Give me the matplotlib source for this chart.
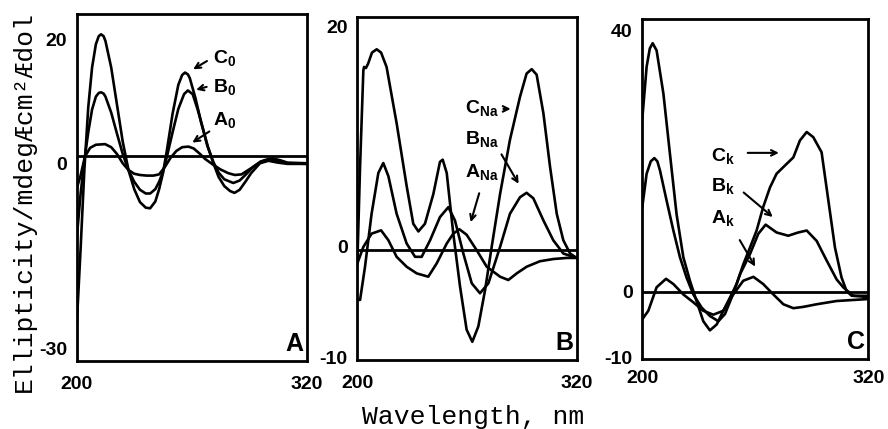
import matplotlib
matplotlib.use('Agg')
import matplotlib.pyplot as plt

plt.rcParams['font.family'] = ['Liberation Sans', 'DejaVu Sans']
plt.rcParams['mathtext.fontset'] = 'custom'
plt.rcParams['mathtext.bf'] = 'Liberation Sans:bold'
plt.rcParams['mathtext.rm'] = 'Liberation Sans'

# panel A (water)
wl_c0 = [200, 202, 204, 206, 208, 210, 211.5, 212.7, 214, 215, 218, 221, 224, 227, 230, 233, 236,
         238.3, 241, 243, 245, 247, 250, 253, 255, 256.5, 258, 259, 262, 265, 268, 271.3, 274,
         277, 280, 282.3, 285, 288, 291, 295.6, 300, 305, 310, 320]
c0 = [-26.2, -14, -1, 9, 15.5, 19.3, 20.6, 20.9, 20.6, 19.8, 15.5, 9.5, 3.5, -1.1, -4.2, -6.3, -7.2,
      -7.3, -6.2, -4.2, -1.6, 2, 8, 12.7, 14.3, 14.7, 14.4, 13.8, 10.5, 6.5, 3, 0, -2.2,
      -3.7, -4.5, -4.8, -4.3, -3.0, -1.6, 0, 0.4, 0.1, -0.1, -0.1]
wl_b0 = [200, 202, 204, 206, 208, 210, 211.5, 212.7, 214, 215, 218, 221, 224, 227, 230, 233, 236,
         238.3, 241, 243, 245, 247, 250, 253, 256, 258, 260.5, 263, 266, 268.5, 271.3, 274,
         277, 281.7, 285, 288, 292, 296, 300, 304, 310, 320]
b0 = [-12.2, -5, 0.5, 5, 8.7, 10.8, 11.4, 11.5, 11.3, 10.8, 8.2, 4.8, 1.5, -1.1, -3.0, -4.3, -4.9,
      -4.9, -4.2, -3.0, -1.4, 1, 5, 8.8, 11.2, 11.8, 11.2, 8.8, 5.5, 2.6, 0.2, -1.5,
      -2.6, -3.2, -2.8, -1.9, -0.6, 0.3, 0.6, 0.4, 0.0, -0.1]
wl_a0 = [200, 202, 204.3, 207, 210, 214.8, 218, 221, 224, 227, 230, 233, 236.5, 240, 243, 246,
         249, 252, 255, 258.3, 261, 264, 267, 271, 275, 279, 282.5, 286, 290, 294, 298, 302,
         306, 310, 320]
a0 = [-4.1, -2, 1.1, 2.5, 3.0, 3.1, 2.6, 1.5, 0, -1.1, -1.7, -1.9, -2.0, -2.0, -1.8, -0.6,
      0.9, 2.0, 2.6, 2.7, 2.4, 1.6, 0.7, -0.2, -1.0, -1.6, -1.9, -1.8, -1.0, -0.2, 0.5, 0.8,
      0.5, 0.1, 0.0]
base_a = 1.2

# panel B (Na)
wl_cna = [200, 201.5, 203.3, 203.7, 204.7, 205.9, 208, 210.6, 213, 216, 221.5, 227, 230.6,
          233.4, 237, 241.6, 245.2, 246.7, 248.9, 252.5, 256.2, 259.8, 262.9, 266.2, 269.9,
          273.5, 278.1, 283.5, 289, 292.6, 295.4, 298.1, 301.8, 305.4, 309.1, 312.7, 316.4, 320]
cna = [-1.5, 7.3, 16.0, 16.3, 16.2, 16.6, 17.6, 17.9, 17.6, 16.3, 11.2, 5.5, 2.1,
       1.4, 2.1, 4.8, 7.7, 7.9, 6.7, 1.2, -3.6, -7.5, -8.6, -7.2, -3.9,
       0.0, 4.8, 9.7, 13.6, 15.7, 16.1, 15.6, 12.1, 7.3, 3.0, 0.6, -0.6, -1.0]
wl_bna = [200, 201.5, 204.2, 207.8, 211.5, 214.2, 217, 221.5, 227, 231.6, 235.2, 239.8, 245.2,
          249.8, 253.4, 258, 262.6, 267.1, 271.7, 278.1, 283.5, 289, 292.6, 296.3, 301.8,
          307.2, 312.7, 320]
bna = [-4.8, -4.8, -1.8, 3.0, 6.7, 7.6, 6.4, 3.0, 0.3, -0.9, -0.9, 0.6, 2.7,
       3.6, 2.4, -0.6, -3.3, -4.2, -3.3, 0.0, 3.0, 4.5, 4.9, 4.4, 2.4,
       0.6, -0.6, -1.0]
wl_ana = [200, 203.3, 207.8, 213, 217, 221.5, 227, 232.5, 238.8, 243.4, 248.9, 252.5, 255.8,
          259.8, 265.3, 270.8, 278.1, 282.6, 287.2, 292.6, 299.9, 307.2, 314.5, 320]
ana = [-1.5, 0.0, 1.2, 1.5, 0.6, -0.9, -1.8, -2.4, -2.7, -1.5, 0.3, 1.2, 1.6,
       1.1, -0.3, -1.8, -2.7, -3.0, -2.4, -1.8, -1.3, -1.1, -1.0, -1.0]
base_b = -0.3

# panel C (K)
wl_ck = [200, 202.3, 204, 205.5, 207.6, 211.2, 214.7, 218.2, 221.8, 225.3, 228.8, 232.4, 235.9,
         239.5, 243, 246.5, 250.1, 253.6, 257.2, 260.7, 264.2, 267.8, 271.3, 276.6, 280.2,
         283.7, 287.3, 290.8, 295.2, 298.8, 302.3, 305.8, 308.5, 311.2, 320]
ck = [26.5, 34.5, 37.3, 38.1, 37.0, 30.4, 21.1, 11.9, 5.3, 1.7, -1.4, -4.5, -5.9,
      -5.0, -2.9, -0.9, 1.2, 4.2, 6.8, 9.4, 13.0, 16.0, 18.1, 19.6, 20.6,
      23.2, 24.5, 23.7, 21.4, 14.0, 6.8, 2.2, 0.1, -0.6, -0.6]
wl_bk = [200, 202.3, 204.5, 206.4, 208, 209.4, 212.9, 216.5, 220, 223.5, 227.1, 231.5, 235.9,
         240.4, 243.9, 247.4, 251.9, 257.2, 261.6, 265.5, 271.3, 277.5, 282.8, 287.3, 292.6,
         297.9, 303.2, 306.7, 312, 320]
bk = [13.0, 18.1, 20.0, 20.5, 20.0, 18.6, 14.0, 9.4, 5.3, 2.2, -0.4, -2.4, -3.7,
      -4.5, -3.4, -0.9, 2.7, 5.8, 8.9, 10.3, 9.1, 8.6, 9.1, 9.4, 7.8,
      4.8, 1.9, 0.7, -0.6, -0.8]
wl_ak = [200, 203.2, 207.6, 212.6, 216.5, 221.8, 227.1, 232.4, 237.7, 243, 248.3, 253.6,
         259, 264.2, 269.6, 274.9, 280.2, 285.5, 292.6, 303.2, 320]
ak = [-4.2, -2.9, 0.7, 2.0, 1.2, -0.4, -1.6, -2.9, -3.5, -2.9, -0.4, 1.7,
      2.3, 1.2, -0.4, -1.9, -2.5, -2.3, -1.9, -1.4, -1.1]
base_c = 0.0

lw = 1.9
fig = plt.figure(figsize=(8.88, 4.29), dpi=100)


def setup(ax, ylim, yticks, letter, xpad):
    ax.set_xlim(200, 320)
    ax.set_ylim(*ylim)
    ax.set_xticks([200, 320])
    ax.set_yticks(yticks)
    ax.set_xticklabels(['200', '320'], fontsize=14, fontweight='bold')
    ax.set_yticklabels([str(t) for t in yticks], fontsize=14, fontweight='bold')
    ax.tick_params(length=0)
    ax.tick_params(axis='y', pad=7)
    ax.tick_params(axis='x', pad=xpad)
    for s in ax.spines.values():
        s.set_linewidth(2)
    ax.text(0.985, 0.015, letter, transform=ax.transAxes, ha='right', va='bottom',
            fontsize=18, fontweight='bold')


def label(ax, txt, xy, arrow_from, arrow_to):
    ax.text(xy[0], xy[1], txt, ha='center', va='center', fontsize=14)
    ax.annotate('', xy=arrow_to, xytext=arrow_from,
                arrowprops=dict(arrowstyle='->', lw=1.5, color='black'))


# A
ax1 = fig.add_axes([0.0864, 0.1585, 0.259, 0.809])
for w, v in [(wl_c0, c0), (wl_b0, b0), (wl_a0, a0)]:
    ax1.plot(w, v, color='black', lw=lw)
ax1.axhline(base_a, color='black', lw=2)
setup(ax1, (-32.05, 24.2), [20, 0, -30], 'A', 11)
label(ax1, r'$\mathbf{C}_{\mathbf{0}}$', (277, 16.9), (269.2, 16.8), (259.5, 15.0))
label(ax1, r'$\mathbf{B}_{\mathbf{0}}$', (277, 12.2), (269.2, 12.5), (260.9, 11.8))
label(ax1, r'$\mathbf{A}_{\mathbf{0}}$', (277, 6.9), (270.4, 5.4), (259.1, 3.1))

# B
ax2 = fig.add_axes([0.4024, 0.161, 0.247, 0.800])
for w, v in [(wl_cna, cna), (wl_bna, bna), (wl_ana, ana)]:
    ax2.plot(w, v, color='black', lw=lw)
ax2.axhline(base_b, color='black', lw=2)
setup(ax2, (-10.24, 20.85), [20, 0, -10], 'B', 11)
label(ax2, r'$\mathbf{C}_{\mathbf{Na}}$', (268, 12.5), (278.4, 12.5), (285.4, 12.5))
label(ax2, r'$\mathbf{B}_{\mathbf{Na}}$', (268, 9.7), (278.1, 8.6), (289, 5.5))
label(ax2, r'$\mathbf{A}_{\mathbf{Na}}$', (268, 6.7), (267.1, 5.1), (261.6, 2.0))

# C
ax3 = fig.add_axes([0.7233, 0.163, 0.2545, 0.7925])
for w, v in [(wl_ck, ck), (wl_bk, bk), (wl_ak, ak)]:
    ax3.plot(w, v, color='black', lw=lw)
ax3.axhline(base_c, color='black', lw=2)
setup(ax3, (-10.3, 41.8), [40, 0, -10], 'C', 8)
label(ax3, r'$\mathbf{C}_{\mathbf{k}}$', (243, 20.7), (254.5, 21.3), (274, 21.3))
label(ax3, r'$\mathbf{B}_{\mathbf{k}}$', (243, 16.1), (252.7, 15.5), (270.4, 11.2))
label(ax3, r'$\mathbf{A}_{\mathbf{k}}$', (243, 11.2), (251, 8.3), (260.7, 3.5))

fig.text(0.533, 0.028, 'Wavelength, nm', family='Liberation Mono', fontsize=19,
         ha='center', va='center')
fig.text(0.027, 0.53, 'Ellipticity/mdegÆcm²Ædol', family='Liberation Mono', fontsize=19,
         rotation=90, ha='center', va='center')

fig.savefig('out.png', dpi=100)
